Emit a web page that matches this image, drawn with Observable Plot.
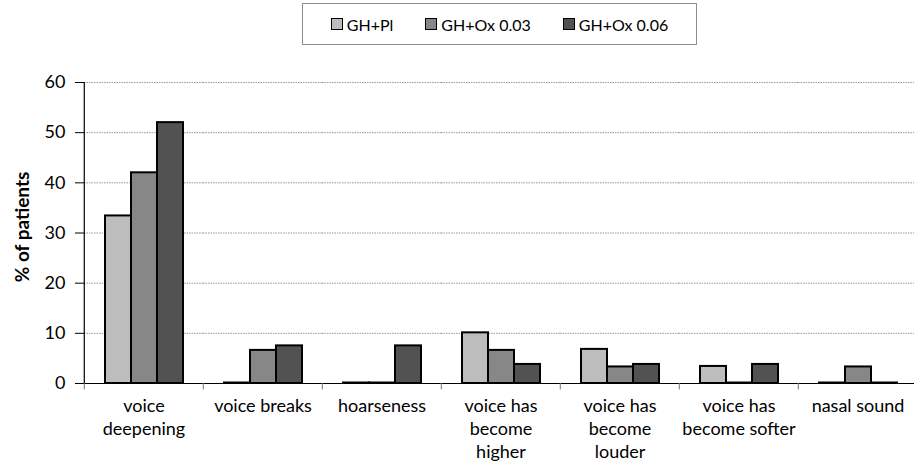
<!DOCTYPE html>
<html>
<head>
<meta charset="utf-8">
<script src="https://cdn.jsdelivr.net/npm/d3@7"></script>
<script src="https://cdn.jsdelivr.net/npm/@observablehq/plot@0.6"></script>
<style>
  html, body { margin: 0; padding: 0; background: #fff; overflow: hidden; }
  body { width: 914px; height: 467px; font-family: Lato, "Noto Sans", sans-serif; }
  #legend {
    box-sizing: border-box; margin: 3px 0 0 302px; width: 395px; height: 42px;
    border: 1px solid #8c8c8c; display: flex; justify-content: center; align-items: center;
    gap: 32px; font-size: 16px; color: #000;
  }
  #legend .item { display: flex; align-items: center; gap: 4px; }
  #legend .sw { width: 10px; height: 10px; border: 1.5px solid #000; }
  #chart svg { display: block; margin-top: 5px; }
</style>
</head>
<body>
<div id="legend"></div>
<div id="chart"></div>
<script>
const categories = ["voice deepening", "voice breaks", "hoarseness", "voice has become higher", "voice has become louder", "voice has become softer", "nasal sound"];
const categoryLabels = ["voice\ndeepening", "voice breaks", "hoarseness", "voice has\nbecome\nhigher", "voice has\nbecome\nlouder", "voice has\nbecome softer", "nasal sound"];
const series = ["GH+Pl", "GH+Ox 0.03", "GH+Ox 0.06"];
const valuesPl   = [33.3, 0,   0,   10,  6.7, 3.3, 0];
const valuesOx03 = [41.9, 6.5, 0,   6.5, 3.2, 0,   3.2];
const valuesOx06 = [51.9, 7.4, 7.4, 3.7, 3.7, 3.7, 0];
const yTicks = [0, 10, 20, 30, 40, 50, 60];
const colors = ["#bdbdbd", "#878787", "#525252"];

const seriesValues = [valuesPl, valuesOx03, valuesOx06];
const data = [];
categories.forEach((c, i) => series.forEach((s, j) => data.push({category: c, series: s, value: seriesValues[j][i]})));
const labelOf = new Map(categories.map((c, i) => [c, categoryLabels[i]]));

// legend
const legend = document.getElementById("legend");
series.forEach((s, j) => {
  const it = document.createElement("div"); it.className = "item";
  const sw = document.createElement("div"); sw.className = "sw"; sw.style.background = colors[j];
  const tx = document.createElement("span"); tx.textContent = s;
  it.append(sw, tx); legend.append(it);
});

const font = "Lato, 'Noto Sans', sans-serif";
const step = (918 - 82) / categories.length;

const chart = Plot.plot({
  width: 914,
  height: 417,
  marginTop: 32,
  marginBottom: 84,
  marginLeft: 82,
  marginRight: 0,
  style: {fontFamily: font, fontSize: "16px", color: "#000", background: "#fff"},
  fx: {domain: categories, range: [82, 918], padding: 0, axis: null},
  x: {domain: series, paddingInner: 0, paddingOuter: 0.738, axis: null},
  y: {domain: [0, 60], axis: null},
  color: {domain: series, range: colors},
  marks: [
    Plot.ruleY(yTicks.filter(d => d > 0), {stroke: "#9a9a9a", strokeWidth: 1, strokeDasharray: "1.5,1"}),
    Plot.barY(data, {fx: "category", x: "series", y: "value", fill: "series", stroke: "#000", strokeWidth: 2, insetTop: -0.5}),
    Plot.ruleY([0], {stroke: "#000", strokeWidth: 1.2}),
    Plot.ruleX(categories, {fx: d => d, x: null, y1: 0, y2: -1.3, dx: -step / 2, stroke: "#777"}),
    Plot.ruleX(categories.slice(0, 1), {fx: d => d, x: null, y1: 0, y2: 60, dx: -step / 2, stroke: "#000", strokeWidth: 1.2}),
    Plot.axisY({ticks: yTicks, tickSize: 9, tickPadding: 10, fontSize: 18, label: null, stroke: "#000"}),
    Plot.text(["% of patients"], {fx: () => categories[0], x: null, frameAnchor: "left", textAnchor: "middle", dx: -62, dy: -6, rotate: -90, text: d => d, fontWeight: "bold", fontSize: 19}),
    Plot.axisFx({anchor: "bottom", tickSize: 0, tickPadding: 12, fontSize: 18, lineHeight: 1.28, tickFormat: d => labelOf.get(d), label: null})
  ]
});
document.getElementById("chart").append(chart);
</script>
</body>
</html>
